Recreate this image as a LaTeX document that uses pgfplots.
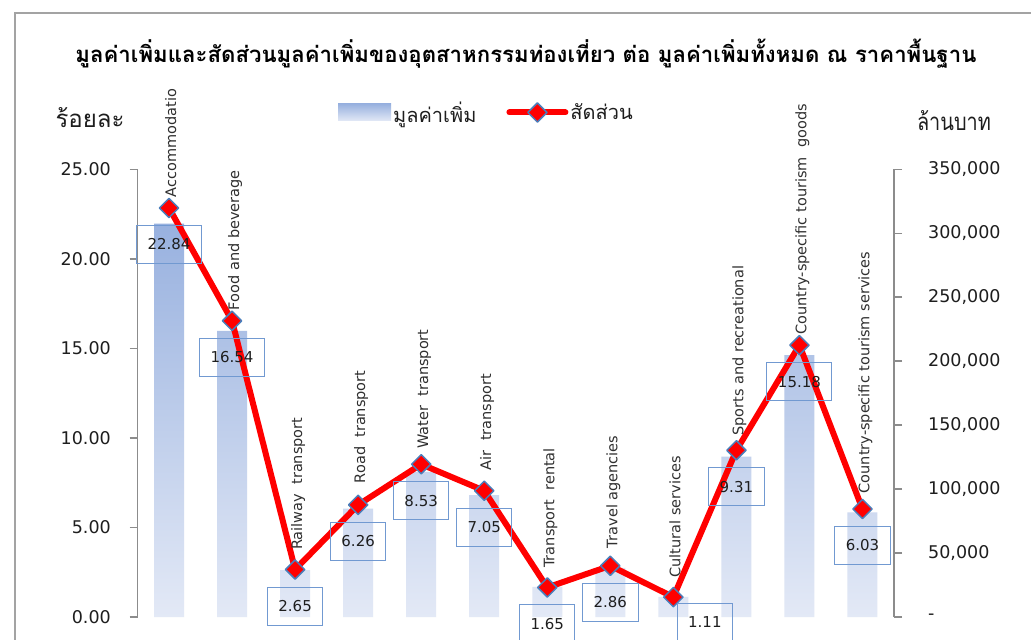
\documentclass[border=0pt]{standalone}
\usepackage{fontspec}
\setmainfont{DejaVu Sans}
\newfontfamily\thaifont[Script=Thai]{Loma}
\usepackage{pgfplots}
\pgfplotsset{compat=1.18}
\definecolor{barTop}{HTML}{98B1DF}
\definecolor{barBot}{HTML}{E3E9F6}
\definecolor{boxblue}{HTML}{7199D1}
\definecolor{mkblue}{HTML}{4A7EBB}
\definecolor{axgray}{HTML}{8C8C8C}
\definecolor{txt}{HTML}{1E1E1E}
\definecolor{cattxt}{HTML}{303030}
\pgfplotsset{mylegline/.style={legend image code/.code={\draw[mark repeat=2,mark phase=2,##1] plot coordinates {(0pt,0pt) (28pt,0pt) (56pt,0pt)};}}}
\begin{document}
\begin{tikzpicture}
\path[use as bounding box] (0,0) rectangle (1031pt,640pt);
\clip (0,0) rectangle (1031pt,640pt);
\fill[white] (0,0) rectangle (1031pt,640pt);
\draw[axgray!80, line width=1.5pt] (15pt,-20pt) rectangle (1060pt,627pt);

% ---------- bars: value added (million baht), right axis
\begin{axis}[
  at={(137.5pt,23pt)}, anchor=south west,
  scale only axis, width=756.5pt, height=447.7pt,
  xmin=-0.5, xmax=11.5, ymin=0, ymax=350000,
  scaled y ticks=false,
  axis x line=none, axis y line*=right,
  axis line style={draw=axgray, line width=1.5pt, -},
  ytick={0,50000,100000,150000,200000,250000,300000,350000},
  yticklabels={-,{50,000},{100,000},{150,000},{200,000},{250,000},{300,000},{350,000}},
  tick align=outside, major tick length=8pt,
  tick style={draw=axgray, line width=1.5pt},
  yticklabel style={font=\fontsize{17.5}{20}\selectfont, text=txt, inner sep=0pt, anchor=west, xshift=26pt},
  ylabel={\thaifont ล้านบาท},
  ylabel style={at={(axis description cs:1.0793,1.11)}, rotate=-90, anchor=center, xscale=0.83, font=\fontsize{24}{28}\selectfont, text=txt},
  clip=false,
]
\addplot[ybar, bar width=30pt, draw=none, top color=barTop, bottom color=barBot] coordinates {
(0,307600) (1,223700) (2,36600) (3,84800) (4,113400) (5,95200)
(6,23500) (7,38500) (8,15700) (9,125400) (10,204700) (11,81700)};
\end{axis}

% ---------- line: share (percent), left axis
\begin{axis}[
  at={(137.5pt,23pt)}, anchor=south west,
  scale only axis, width=756.5pt, height=447.7pt,
  xmin=-0.5, xmax=11.5, ymin=0, ymax=25,
  axis x line=none, axis y line*=left,
  axis line style={draw=axgray, line width=1.5pt, -},
  ytick={0,5,10,15,20,25},
  yticklabels={0.00,5.00,10.00,15.00,20.00,25.00},
  tick align=outside, major tick length=8pt,
  tick style={draw=axgray, line width=1.5pt},
  yticklabel style={font=\fontsize{17.5}{20}\selectfont, text=txt, inner sep=0pt, anchor=east, xshift=-18.5pt},
  ylabel={\thaifont ร้อยละ},
  ylabel style={at={(axis description cs:-0.0628,1.1146)}, rotate=-90, anchor=center, font=\fontsize{24}{28}\selectfont, text=txt},
  title={\thaifont\bfseries มูลค่าเพิ่มและสัดส่วนมูลค่าเพิ่มของอุตสาหกรรมท่องเที่ยว ต่อ มูลค่าเพิ่มทั้งหมด ณ ราคาพื้นฐาน},
  title style={at={(axis description cs:0.5135,1.245)}, anchor=center, font=\fontsize{22.2}{26}\selectfont, text=black},
  clip=false,
  legend columns=2,
  legend cell align=left,
  legend style={at={(axis description cs:0.265,1.1269)}, anchor=west, draw=none, fill=none, inner sep=0pt,
    font=\thaifont\fontsize{20}{24}\selectfont, text=txt,
    nodes={inner sep=2pt},
    /tikz/every even column/.append style={column sep=28pt}},
]
\addlegendimage{legend image code/.code={\shade[draw=none,top color=barTop,bottom color=barBot] (0pt,-8.5pt) rectangle (53pt,8.5pt);}}
\addlegendentry{มูลค่าเพิ่ม}
\addplot[color=red, line width=6pt, line join=round, line cap=round,
  mark=square*, mark size=6.8pt,
  mark options={rotate=45, fill=red, draw=mkblue, line width=1.5pt},
  mylegline]
 coordinates {
(0,22.84) (1,16.54) (2,2.65) (3,6.26) (4,8.53) (5,7.05)
(6,1.65) (7,2.86) (8,1.11) (9,9.31) (10,15.18) (11,6.03)};
\addlegendentry{สัดส่วน}

% category labels
\addplot[draw=none, mark=none, forget plot, point meta=explicit symbolic,
  nodes near coords,
  every node near coord/.style={anchor=base west, rotate=90, xshift=10.5pt, yshift=-7pt,
    inner sep=0pt, font=\fontsize{14.5}{17}\selectfont, text=cattxt}]
 coordinates {
(0,22.84) [Accommodatio]
(1,16.54) [Food and beverage]
(2,2.65) [\hspace{9pt}Railway\ \ transport]
(3,6.26) [\hspace{11pt}Road\ \ transport]
(4,8.53) [\hspace{5pt}Water\ \ transport]
(5,7.05) [\hspace{10pt}Air\ \ transport]
(6,1.65) [\hspace{9pt}Transport\ \ rental]
(7,2.86) [\hspace{7pt}Travel agencies]
(8,1.11) [\hspace{9pt}Cultural services]
(9,9.31) [\hspace{4pt}Sports and recreational]
(10,15.18) [Country-specific tourism\ \ goods]
(11,6.03) [\hspace{5pt}Country-specific tourism services]};

% value labels
\addplot[draw=none, mark=none, forget plot, point meta=y,
  nodes near coords={\pgfmathprintnumber[fixed,fixed zerofill,precision=2,assume math mode=true]{\pgfplotspointmeta}},
  every node near coord/.style={anchor=center, yshift=-36.5pt, draw=boxblue, line width=1pt,
    inner xsep=11pt, inner ysep=0pt, minimum height=38pt, font=\fontsize{15}{18}\selectfont, text=txt}]
 coordinates {
(0,22.84) (1,16.54) (2,2.65) (3,6.26) (4,8.53) (5,7.05)
(6,1.65) (7,2.86) (9,9.31) (10,15.18) (11,6.03)};
\addplot[draw=none, mark=none, forget plot, point meta=y,
  nodes near coords={\pgfmathprintnumber[fixed,fixed zerofill,precision=2,assume math mode=true]{\pgfplotspointmeta}},
  every node near coord/.style={anchor=center, xshift=31.5pt, yshift=-25pt, draw=boxblue, line width=1pt,
    inner xsep=11pt, inner ysep=0pt, minimum height=38pt, font=\fontsize{15}{18}\selectfont, text=txt}]
 coordinates {(8,1.11)};
\end{axis}
\end{tikzpicture}
\end{document}
